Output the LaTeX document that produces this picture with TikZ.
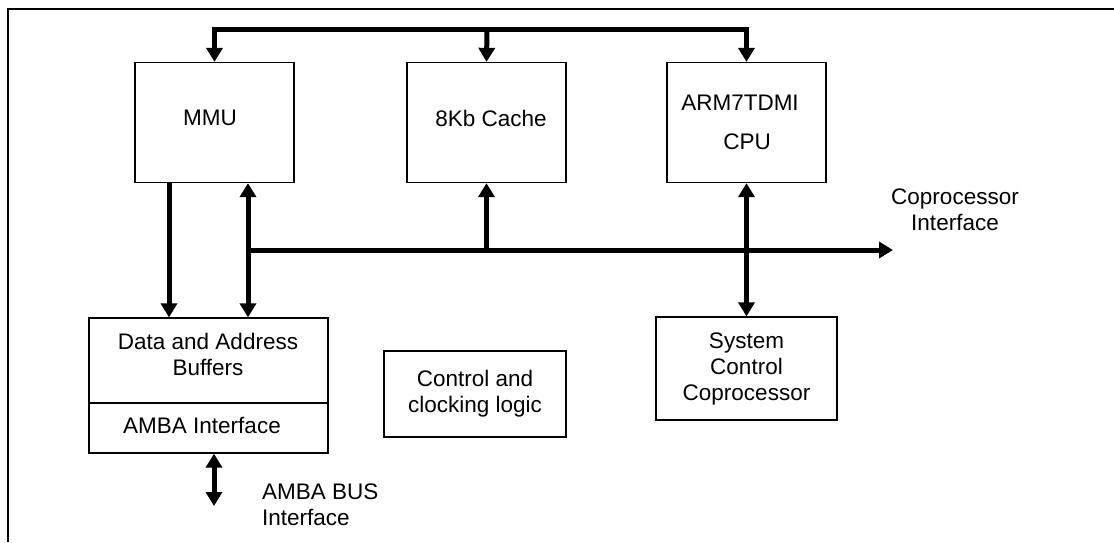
\documentclass[tikz,border=0pt]{standalone}
\usepackage{fontspec}
\setmainfont{Liberation Sans}
\usetikzlibrary{arrows.meta}
\begin{document}
\begin{tikzpicture}[x=1pt,y=-1pt,
  every node/.style={font=\fontsize{22.5}{26}\selectfont},
  blk/.style={draw,line width=1.3pt,inner sep=0pt,align=center},
  lbl/.style={inner sep=0pt,align=center},
  bus/.style={line width=5pt,-,>={Triangle[width=16pt,length=14pt]}}]
\useasboundingbox (0,0) rectangle (1114,542);
% frame
\draw[line width=2.5pt] (8,542) -- (8,9) -- (1114,9);
% blocks
\node[blk,minimum width=159pt,minimum height=120pt] (mmu) at (214.5,122.5) {};
\node[lbl] (mmut) at (210,118) {MMU};
\node[blk,minimum width=159pt,minimum height=120pt] (cache) at (486.5,122.5) {};
\node[lbl] (cachet) at (491,118) {8Kb Cache};
\node[blk,minimum width=159pt,minimum height=120pt] (cpu) at (746.5,122.5) {};
\node[lbl] (cput1) at (740,103) {ARM7TDMI};
\node[lbl] (cput2) at (747,142) {CPU};
\node[blk,minimum width=239pt,minimum height=135pt] (dab) at (208.5,385.5) {};
\coordinate (divL) at (89,403);
\coordinate (divR) at (328,403);
\draw[line width=1.3pt] (divL) -- (divR);
\node[lbl] (dabt) at (208,354) {Data and Address\\Buffers};
\node[lbl] (ambat) at (202,425) {AMBA Interface};
\node[blk,minimum width=182pt,minimum height=86pt] (ctrl) at (475,394) {Control and\\clocking logic};
\node[blk,minimum width=181pt,minimum height=103pt] (sys) at (746.5,368.5) {System\\Control\\Coprocessor};
\node[lbl] (copt) at (955,210) {Coprocessor\\Interface};
\node[lbl,align=left,anchor=west] (ambabus) at (262,505) {AMBA BUS\\Interface};
% top bus
\coordinate (tbus) at (487,29);
\draw[bus,<->] (mmu.north) |- (tbus) -| (cpu.north);
\draw[bus,->] (tbus) -- (cache.north);
% MMU to buffers
\draw[bus,->] ([xshift=-45.5pt]mmu.south) -- ([xshift=-45.5pt]mmu.south |- dab.north);
\draw[bus,<->] ([xshift=33.5pt]mmu.south) -- ([xshift=33.5pt]mmu.south |- dab.north);
% horizontal bus
\coordinate (hb) at (248,250);
\coordinate (coproc) at (893,250);
\draw[bus,->] (hb) -- (coproc);
\draw[bus,->] (cache.south |- hb) -- (cache.south);
\draw[bus,<->] (cpu.south) -- (sys.north);
% AMBA bus
\coordinate (amba) at (214,506);
\draw[bus,<->] (amba |- dab.south) -- (amba);
\end{tikzpicture}
\end{document}
